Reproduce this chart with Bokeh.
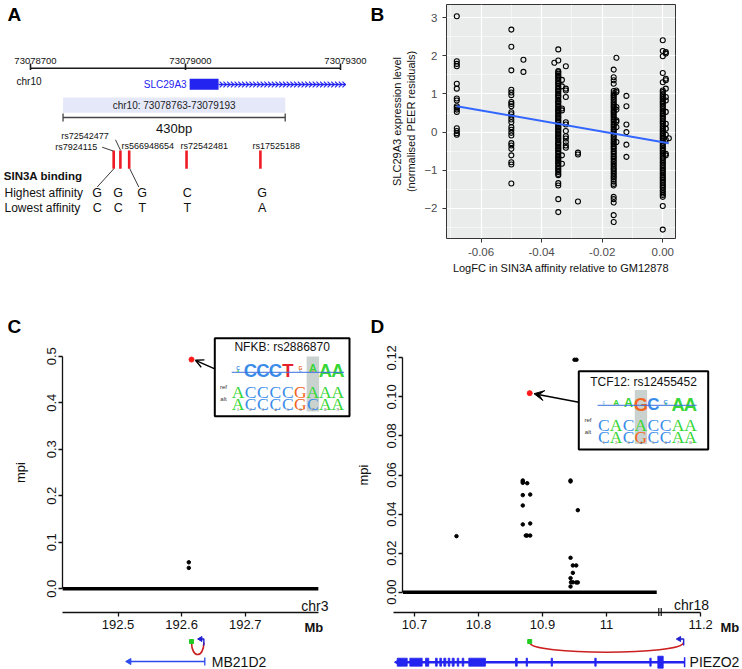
import numpy as np
from bokeh.plotting import figure
from bokeh.layouts import column, row
from bokeh.models import Range1d, LinearAxis, FixedTicker, NumeralTickFormatter, Arrow, OpenHead, VeeHead
from bokeh.core.properties import value
from bokeh.embed import file_html
from bokeh.resources import INLINE

SANS = value("Liberation Sans")
SERIF = value("Liberation Serif")

# ------------------------------------------------------------------ Panel A data
a_chrom = "chr10"
a_ruler_ticks = [73078700, 73079000, 73079300]
a_region = [73078763, 73079193]
a_gene_name = "SLC29A3"
a_gene_start = 73079008
a_gene_thick_end = 73079064
a_gene_end = 73079310
a_snp_ids = ["rs7924115", "rs72542477", "rs566948654", "rs72542481", "rs17525188"]
a_snp_pos = [73078861, 73078874, 73078891, 73079002, 73079145]
a_high = ["G", "G", "G", "C", "G"]
a_low = ["C", "C", "T", "T", "A"]

# ------------------------------------------------------------------ Panel B data
b_x_levels = [-0.068, -0.050, -0.046, -0.0358, -0.0345, -0.0333, -0.032, -0.028,
              -0.0162, -0.0153, -0.012, 0.000, 0.001, 0.002]
b_y_values = [
    [3.04, 1.86, 1.79, 1.73, 1.27, 1.14, 0.88, 0.83, 0.68, 0.64, 0.59, 0.53, 0.10, 0.03, -0.03, -0.07],
    [2.69, 2.24, 1.62, 1.11, 1.04, 0.97, 0.79, 0.74, 0.68, 0.52, 0.47, 0.40, 0.33, 0.26, 0.13, 0.06,
     -0.02, -0.09, -0.29, -0.35, -0.44, -0.61, -0.79, -0.85, -1.35],
    [1.90, 1.58],
    [1.82],
    [2.17, 1.88, 1.60, 1.57, 1.53, 1.49, 1.46, 1.42, 1.38, 1.33, 1.29, 1.26, 1.21, 1.17, 1.13, 1.09,
     1.06, 1.01, 0.97, 0.94, 0.90, 0.85, 0.81, 0.78, 0.74, 0.69, 0.66, 0.62, 0.58, 0.55, 0.51, 0.47,
     0.43, 0.39, 0.36, 0.31, 0.28, 0.24, 0.19, 0.15, 0.12, 0.08, 0.04, 0.01, -0.03, -0.07, -0.11,
     -0.14, -0.18, -0.22, -0.27, -0.30, -0.34, -0.38, -0.42, -0.45, -0.49, -0.53, -0.57, -0.62,
     -0.65, -0.69, -0.73, -0.77, -0.81, -0.84, -0.89, -0.93, -0.97, -1.01, -1.05, -1.10, -1.13,
     -1.34, -1.40, -1.76, -2.10],
    [1.37, 1.20, 0.62, 0.57, -0.61, -0.83],
    [1.73, 1.14, 1.09, 0.92, 0.26, 0.20, 0.03, -0.11, -0.17, -0.26, -0.35, -0.41],
    [-0.54, -0.59, -1.82],
    [1.64, 1.44, 1.36, 1.27, 1.08, 1.02, 0.97, 0.93, 0.88, 0.84, 0.79, 0.75, 0.70, 0.66, 0.62, 0.57,
     0.53, 0.49, 0.44, 0.40, 0.35, 0.31, 0.27, 0.22, 0.18, 0.14, 0.09, 0.05, 0.01, -0.04, -0.09,
     -0.13, -0.18, -0.22, -0.27, -0.31, -0.36, -0.40, -0.44, -0.49, -0.53, -0.57, -0.62, -0.66,
     -0.70, -0.75, -0.79, -0.84, -0.88, -0.93, -0.97, -1.01, -1.06, -1.10, -1.15, -1.19, -1.24,
     -1.30, -1.36, -1.40, -1.70, -1.76, -1.85, -2.18, -2.36],
    [1.95, 1.09, 1.05, 0.66, 0.59, 0.31, 0.27, 0.13, -0.26],
    [0.95, 0.68, 0.20, 0.00, -0.33, -0.65],
    [2.41, 2.13, 1.99, 1.55, 1.31, 1.09, 1.05, 1.00, 0.96, 0.91, 0.87, 0.82, 0.78, 0.74, 0.69, 0.65,
     0.60, 0.56, 0.51, 0.47, 0.43, 0.38, 0.34, 0.29, 0.25, 0.21, 0.16, 0.12, 0.07, 0.03, -0.02,
     -0.06, -0.11, -0.15, -0.19, -0.24, -0.28, -0.33, -0.37, -0.42, -0.46, -0.50, -0.55, -0.59,
     -0.64, -0.68, -0.72, -0.77, -0.81, -0.86, -0.90, -0.95, -0.99, -1.03, -1.08, -1.12, -1.17,
     -1.21, -1.25, -1.30, -1.34, -1.39, -1.43, -1.47, -1.52, -1.56, -1.61, -1.65, -1.70, -1.94, -2.56],
    [2.10, 2.06, 1.40, 1.36, 1.14, 0.92, 0.83, 0.53, 0.22, 0.09, -0.07, -0.20, -0.57, -0.61],
    [-0.16],
]
b_fit_x = [-0.068, 0.002]
b_fit_y = [0.68, -0.29]
b_xticks = [-0.06, -0.04, -0.02, 0.00]
b_xminor = [-0.07, -0.05, -0.03, -0.01]
b_yticks = [-2, -1, 0, 1, 2, 3]
b_yminor = [-2.5, -1.5, -0.5, 0.5, 1.5, 2.5]

# ------------------------------------------------------------------ Panel C data
c_chrom = "chr3"
c_yticks = [0.0, 0.1, 0.2, 0.3, 0.4, 0.5]
c_xticks = [192.5, 192.6, 192.7]
c_bg_range = [192.413, 192.815]          # SNPs with mpi ~ 0
c_snp_mb = [192.6113, 192.6113]
c_snp_mpi = [0.057, 0.045]
c_lead_mb = [192.6156]
c_lead_mpi = [0.493]
c_lead_label = "NFKB: rs2886870"
c_gene = "MB21D2"
c_gene_span = [192.5155, 192.6365]
c_tss = 192.6365
c_motif_ref = "ACCCCGAAA"
c_motif_alt = "ACCCCGCAA"
c_motif_snp = 7
c_logo = [[("A", 2.0), ("C", 3.5)], [("C", 12.5)], [("C", 12.5)], [("C", 12.5)], [("T", 12.5)],
          [("C", 2.5), ("G", 3.5)], [("G", 2.0), ("A", 7.5)], [("A", 12.5)], [("A", 12.5)]]

# ------------------------------------------------------------------ Panel D data
d_chrom = "chr18"
d_yticks = [0.0, 0.02, 0.04, 0.06, 0.08, 0.10, 0.12]
d_xtick_real = [10.7, 10.8, 10.9, 11.0, 11.2]
d_xtick_labels = ["10.7", "10.8", "10.9", "11", "11.2"]
d_bg_range = [10.682, 11.0785]
d_snp_mb = [10.7656, 10.8692, 10.8692, 10.8692, 10.8692, 10.8692, 10.8692, 10.8739, 10.8761,
            10.8761, 10.8808, 10.8808, 10.8808, 10.9438, 10.9438, 10.9438, 10.9438, 10.9445,
            10.9438, 10.9474, 10.9474, 10.9474, 10.9500, 10.9531, 10.9527, 10.9527, 10.9552, 10.9552]
d_snp_mpi = [0.0287, 0.0572, 0.0566, 0.0560, 0.0497, 0.0444, 0.0347, 0.0290, 0.0558,
             0.0290, 0.0500, 0.0352, 0.0290, 0.0572, 0.0567, 0.0176, 0.0072, 0.0051,
             0.0029, 0.0137, 0.0099, 0.0051, 0.1190, 0.1190, 0.0137, 0.0050, 0.0420, 0.0050]
d_lead_mb = [10.880]
d_lead_mpi = [0.1019]
d_lead_label = "TCF12: rs12455452"
d_gene = "PIEZO2"
d_gene_start = 10.673
d_tss_real = 11.148
d_exons = [(10.6730, 10.6886), (10.6927, 10.7120), (10.7172, 10.7223), (10.7328, 10.7355),
           (10.7395, 10.7422), (10.7458, 10.7489), (10.7527, 10.7552), (10.7589, 10.7620),
           (10.7667, 10.7692), (10.7745, 10.7770), (10.7848, 10.8109), (10.8578, 10.8605),
           (10.8745, 10.8766), (10.9136, 10.9156), (10.9817, 10.9839), (11.0677, 11.0698),
           (11.0802, 11.0886)]
d_exon_tall = [False] * 16 + [True]
d_motif_ref = "CACACCAA"
d_motif_alt = "CACGCCAA"
d_motif_snp = 4
d_logo = [[("A", 1.5), ("C", 2.0)], [("G", 1.2), ("A", 5.5)], [("G", 1.0), ("A", 8.5)], [("G", 12.5)],
          [("C", 11.5)], [("A", 2.0), ("C", 4.0)], [("A", 12.5)], [("A", 12.5)]]
# broken genomic axis (beyond the break the scale is compressed)
d_break_real = 11.072
d_break_axis = 11.0855
d_post_scale = 0.481


def d_axis_pos(mb):
    return mb if mb <= d_break_real else d_break_axis + (mb - d_break_real) * d_post_scale


COL = {"A": "#37D637", "C": "#3A8CE8", "G": "#F2661F", "T": "#E6212A"}
BLUE = "#2424F0"


def blank(width, height, xr, yr):
    p = figure(width=width, height=height, x_range=xr, y_range=yr, output_backend="svg",
               toolbar_location=None, min_border=0, x_axis_location=None, y_axis_location=None,
               outline_line_color=None, background_fill_color="white", border_fill_color="white")
    p.grid.visible = False
    return p


def txt(p, x, y, s, size, align="left", color="#111111", style="normal", font=SANS, baseline="middle", **kw):
    p.text(x=x, y=y, text=s, text_font=font, text_font_size=size, text_align=align,
           text_baseline=baseline, text_color=color, text_font_style=style, **kw)


# ================================================================== Panel A
def ax_(px):
    return 73078700 + (px - 30) * 600 / 310


# borders equal to panel B's so that the row's frame alignment keeps pixel positions
pA = blank(386, 300, Range1d(ax_(0), ax_(386)), Range1d(238, 4))
pA.min_border_top = 4
pA.min_border_bottom = 62
txt(pA, [ax_(7)], [13.5], ["A"], "19px", style="bold", color="black")
txt(pA, [ax_(370)], [13.5], ["B"], "19px", style="bold", color="black")

Y_RULER = 67.7
pA.segment(x0=[a_ruler_ticks[0]], y0=[Y_RULER], x1=[a_ruler_ticks[-1]], y1=[Y_RULER],
           line_color="#1a1a1a", line_width=1.6)
pA.segment(x0=a_ruler_ticks, y0=[63] * 3, x1=a_ruler_ticks, y1=[69.5] * 3, line_color="#1a1a1a", line_width=1.6)
txt(pA, a_ruler_ticks, [60] * 3, [str(t) for t in a_ruler_ticks], "9.5px", align="center", x_offset=5)
txt(pA, [ax_(16)], [80.5], [a_chrom], "10px")

# gene
Y_GENE = 84
txt(pA, [a_gene_start], [Y_GENE], [a_gene_name], "10px", align="right", color=BLUE, x_offset=-3)
pA.quad(left=[a_gene_start], right=[a_gene_thick_end], top=[78.3], bottom=[89.3], fill_color=BLUE, line_color=None)
pA.segment(x0=[a_gene_thick_end], y0=[Y_GENE], x1=[a_gene_end], y1=[Y_GENE], line_color=BLUE, line_width=1.3)
chev = np.arange(a_gene_thick_end + 5, a_gene_end - 2, 7.2)
pA.multi_line(xs=[[c - 2.8, c + 2.8, c - 2.8] for c in chev], ys=[[81.2, Y_GENE, 86.8] for c in chev],
              line_color=BLUE, line_width=1.1)

# region
pA.quad(left=[a_region[0]], right=[a_region[1]], top=[97], bottom=[112.3], fill_color="#E5E8F8", line_color=None)
mid = (a_region[0] + a_region[1]) / 2
txt(pA, [mid], [105], [f"{a_chrom}: {a_region[0]}-{a_region[1]}"], "10px", align="center", color="#222222")
pA.segment(x0=[a_region[0]], y0=[117], x1=[a_region[1]], y1=[117], line_color="#444444", line_width=1.3)
pA.segment(x0=a_region, y0=[113, 113], x1=a_region, y1=[121, 121], line_color="#444444", line_width=1.3)
txt(pA, [mid], [128], [f"{a_region[1] - a_region[0]}bp"], "13px", align="center")

# SNPs
pA.segment(x0=a_snp_pos, y0=[150] * 5, x1=a_snp_pos, y1=[168.3] * 5, line_color="#EE1B24", line_width=2.6)
lab_right = [(0, 96.7, 146.7), (1, 108.3, 135.5)]
lab_left = [(2, 121, 145.5), (3, 180, 145.5), (4, 252, 145.5)]
txt(pA, [ax_(v[1]) for v in lab_right], [v[2] for v in lab_right], [a_snp_ids[v[0]] for v in lab_right],
    "9px", align="right")
txt(pA, [ax_(v[1]) for v in lab_left], [v[2] for v in lab_left], [a_snp_ids[v[0]] for v in lab_left], "9px")
leads = [((101.7, 146.7), (112.7, 150.5)), ((115, 139.3), (120, 149.8)),
         ((113.3, 168.3), (96.7, 186.5)), ((129.3, 168.3), (138.3, 186.5))]
pA.segment(x0=[ax_(a[0]) for a, b in leads], y0=[a[1] for a, b in leads],
           x1=[ax_(b[0]) for a, b in leads], y1=[b[1] for a, b in leads], line_color="#222222", line_width=0.9)

txt(pA, [ax_(3.3)], [175], ["SIN3A binding"], "11.5px", style="bold")
txt(pA, [ax_(4)], [192.7], ["Highest affinity"], "12px")
txt(pA, [ax_(4)], [207.7], ["Lowest affinity"], "12px")
letter_px = [96.7, 117.7, 141.7, 186.7, 261.7]
txt(pA, [ax_(v) for v in letter_px], [192.7] * 5, a_high, "12.5px", align="center")
txt(pA, [ax_(v) for v in letter_px], [207.7] * 5, a_low, "12.5px", align="center")

# ================================================================== Panel B
pB = figure(width=356, height=300, x_range=Range1d(-0.0714, 0.0042), y_range=Range1d(-2.793, 3.349),
            output_backend="svg", toolbar_location=None, min_border_left=60, min_border_right=67,
            min_border_top=4, min_border_bottom=62, background_fill_color="#EAECEB",
            outline_line_color="#333333", outline_line_width=1)
pB.xaxis.ticker = FixedTicker(ticks=b_xticks, minor_ticks=b_xminor)
pB.xaxis.formatter = NumeralTickFormatter(format="0.00")
pB.yaxis.ticker = FixedTicker(ticks=b_yticks, minor_ticks=b_yminor)
for ax in (pB.xaxis[0], pB.yaxis[0]):
    ax.axis_line_color = None
    ax.major_tick_out = 4
    ax.major_tick_in = 0
    ax.minor_tick_out = 0
    ax.minor_tick_in = 0
    ax.major_tick_line_color = "#333333"
    ax.major_label_text_font = "Liberation Sans"
    ax.major_label_text_font_size = "11.5px"
    ax.major_label_text_color = "#4D4D4D"
    ax.axis_label_text_font = "Liberation Sans"
    ax.axis_label_text_font_size = "11px"
    ax.axis_label_text_font_style = "normal"
    ax.axis_label_text_color = "#111111"
pB.xaxis.axis_label = "LogFC in SIN3A affinity relative to GM12878"
pB.yaxis.axis_label = "SLC29A3 expression level\n(normalised PEER residuals)"
pB.xaxis.axis_label_standoff = 3
pB.yaxis.axis_label_standoff = 4
for g in (pB.xgrid[0], pB.ygrid[0]):
    g.grid_line_color = "white"
    g.grid_line_width = 1.2
    g.minor_grid_line_color = "white"
    g.minor_grid_line_width = 0.5
bx = [x for x, ys in zip(b_x_levels, b_y_values) for _ in ys]
by = [y for ys in b_y_values for y in ys]
pB.scatter(bx, by, marker="circle", size=5, fill_color=None, line_color="black", line_width=1.1)
pB.line(b_fit_x, b_fit_y, line_color="#3366FF", line_width=2)


# ================================================================== insets
def draw_inset(p, fx, fy, box, title, title_y, logo, seq_ref, seq_alt, hl, x0, step,
               logo_base, uline_y, ref_base, alt_base, num_y, lab_x, hl_top, hl_bot):
    l, t, r, b = box
    p.quad(left=[fx(l)], right=[fx(r)], top=[fy(t)], bottom=[fy(b)], fill_color="white",
           line_color="black", line_width=2)
    n = len(seq_ref)
    xs = [x0 + i * step for i in range(n)]
    hx = xs[hl - 1]
    p.quad(left=[fx(hx - step / 2)], right=[fx(hx + step / 2)], top=[fy(hl_top)], bottom=[fy(hl_bot)],
           fill_color="#C9D2CF", line_color=None)
    txt(p, [fx((l + r) / 2)], [fy(title_y)], [title], "12px", align="center")
    lx, ly, lt, lc, ls = [], [], [], [], []
    for i, stack in enumerate(logo):
        base = logo_base
        for letter, h in stack:
            lx.append(fx(xs[i]))
            ly.append(fy(base))
            lt.append(letter)
            lc.append(COL[letter])
            ls.append(f"{h / 0.68:.1f}px")
            base -= h + 0.3
    p.text(x=lx, y=ly, text=lt, text_color=lc, text_font_size=ls, text_font=SANS, text_font_style="bold",
           text_align="center", text_baseline="alphabetic")
    p.segment(x0=[fx(xs[0] - step / 2)], y0=[fy(uline_y)], x1=[fx(xs[-1] + step / 2)], y1=[fy(uline_y)],
              line_color="#3B6FE0", line_width=1)
    for seq, base in ((seq_ref, ref_base), (seq_alt, alt_base)):
        p.text(x=[fx(v) for v in xs], y=[fy(base)] * n, text=list(seq), text_color=[COL[c] for c in seq],
               text_font=SERIF, text_font_size="17.5px", text_align="center", text_baseline="alphabetic")
    txt(p, [fx(lab_x)] * 2, [fy(ref_base - 5), fy(alt_base - 5)], ["ref", "alt"], "6px", align="center",
        color="#333333")
    txt(p, [fx(v) for v in xs], [fy(num_y)] * n, [str(i + 1) for i in range(n)], "5px", align="center",
        color="#555555", font=SERIF)


def axis_style(ax, size="13px"):
    ax.major_tick_out = 4
    ax.major_tick_in = 0
    ax.minor_tick_out = 0
    ax.minor_tick_in = 0
    ax.axis_line_width = 1.3
    ax.major_tick_line_width = 1.3
    ax.axis_line_color = "#111111"
    ax.major_tick_line_color = "#111111"
    ax.major_label_text_font = "Liberation Sans"
    ax.major_label_text_font_size = size
    ax.major_label_text_color = "#111111"
    ax.axis_label_text_font = "Liberation Sans"
    ax.axis_label_text_font_size = "13px"
    ax.axis_label_text_font_style = "normal"
    ax.axis_label_text_color = "#111111"


# ================================================================== Panel C
def cx_(px):
    return 192.5 + (px - 117.5) / 636


def cy_(py):
    return (588.3 - py) / 465


pC = blank(356, 369, Range1d(cx_(0), cx_(356)), Range1d(cy_(669), cy_(300)))
txt(pC, [cx_(7)], [cy_(325.5)], ["C"], "19px", style="bold", color="black")
yax = LinearAxis(fixed_location=cx_(62), bounds=(0, 0.5), ticker=FixedTicker(ticks=c_yticks),
                 formatter=NumeralTickFormatter(format="0.0"), axis_label="mpi",
                 major_label_orientation="vertical")
axis_style(yax)
yax.major_label_standoff = 2
yax.axis_label_standoff = 17
pC.add_layout(yax, "left")
xax = LinearAxis(fixed_location=cy_(611.7), bounds=(cx_(61.7), cx_(318.3)), ticker=FixedTicker(ticks=c_xticks),
                 formatter=NumeralTickFormatter(format="0.0"))
axis_style(xax)
xax.major_label_standoff = 4
pC.add_layout(xax, "below")
txt(pC, [cx_(328)], [cy_(605)], [c_chrom], "14px", align="right")
txt(pC, [cx_(304)], [cy_(627)], ["Mb"], "13px", style="bold")

pC.segment(x0=[c_bg_range[0]], y0=[0], x1=[c_bg_range[1]], y1=[0], line_color="black", line_width=3.5)
pC.scatter(c_snp_mb, c_snp_mpi, marker="circle", size=3.5, color="black")
pC.scatter(c_lead_mb, c_lead_mpi, marker="circle", size=5, color="#FF1A1A")
pC.add_layout(Arrow(end=OpenHead(size=8, line_width=1.4), x_start=cx_(214.3), y_start=cy_(368.3),
                    x_end=cx_(195), y_end=cy_(359.8), line_width=1.4))
draw_inset(pC, cx_, cy_, (214.3, 337.7, 349, 415.7), c_lead_label, 346.5, c_logo, c_motif_ref, c_motif_alt,
           c_motif_snp, 237.5, 12.48, 370, 371.8, 391.7, 403.5, 408.5, 223, 356, 411)

# gene track
YL, YG = 641, 661
pC.bezier(x0=[c_lead_mb[0]], y0=[cy_(YL + 1)], x1=[c_tss - 0.0015], y1=[cy_(YL + 1)],
          cx0=[c_lead_mb[0]], cy0=[cy_(YL + 17)], cx1=[c_tss - 0.0015], cy1=[cy_(YL + 17)],
          line_color="#CC2020", line_width=1.6)
pC.scatter([c_lead_mb[0]], [cy_(YL)], marker="square", size=4, color="#22CC22")
pC.line([c_tss - 0.0015, c_tss - 0.0015, c_tss - 0.0065], [cy_(YL + 4), cy_(YL - 2.5), cy_(YL - 2.5)],
        line_color="#2020D0", line_width=1.4)
pC.scatter([c_tss - 0.0068], [cy_(YL - 2.5)], marker="triangle", angle=np.pi / 2, size=5, color="#2020D0")
pC.segment(x0=[c_gene_span[0]], y0=[cy_(YG)], x1=[c_gene_span[1]], y1=[cy_(YG)], line_color="#2B4BEE",
           line_width=1.3)
pC.scatter([c_gene_span[0] + 0.002], [cy_(YG)], marker="triangle", angle=np.pi / 2, size=6, color="#2B4BEE")
pC.segment(x0=[c_gene_span[1]], y0=[cy_(YG - 4)], x1=[c_gene_span[1]], y1=[cy_(YG + 4)], line_color="#2B4BEE",
           line_width=1.3)
txt(pC, [c_gene_span[1]], [cy_(YG)], [c_gene], "14px", x_offset=7)


# ================================================================== Panel D
def dx_(px):
    return 10.7 + (px - 414) / 640


def dy_(py):
    return (591.7 - py) / 1953.3


pD = blank(386, 369, Range1d(dx_(356), dx_(742)), Range1d(dy_(669), dy_(300)))
txt(pD, [dx_(370)], [dy_(325.5)], ["D"], "19px", style="bold", color="black")
yax = LinearAxis(fixed_location=dx_(401.7), bounds=(0, 0.12), ticker=FixedTicker(ticks=d_yticks),
                 formatter=NumeralTickFormatter(format="0.00"), axis_label="mpi",
                 major_label_orientation="vertical")
axis_style(yax)
yax.major_label_standoff = 2
yax.axis_label_standoff = 14
pD.add_layout(yax, "left")
d_tick_pos = [round(d_axis_pos(v), 6) for v in d_xtick_real]
xax = LinearAxis(fixed_location=dy_(611.7), bounds=(dx_(393.3), d_tick_pos[-1]),
                 ticker=FixedTicker(ticks=d_tick_pos),
                 major_label_overrides={t: l for t, l in zip(d_tick_pos, d_xtick_labels)})
axis_style(xax)
xax.major_label_standoff = 4
pD.add_layout(xax, "below")
pD.segment(x0=[d_break_axis - 0.0038, d_break_axis], y0=[dy_(607.5)] * 2,
           x1=[d_break_axis - 0.0038, d_break_axis], y1=[dy_(615.5)] * 2, line_color="#111111", line_width=1.2)
txt(pD, [dx_(708.5)], [dy_(604)], [d_chrom], "14px", align="right")
txt(pD, [dx_(720)], [dy_(627)], ["Mb"], "13px", style="bold")

pD.segment(x0=[d_bg_range[0]], y0=[0], x1=[d_bg_range[1]], y1=[0], line_color="black", line_width=3.5)
pD.scatter(d_snp_mb, d_snp_mpi, marker="circle", size=3.5, color="black")
pD.scatter(d_lead_mb, d_lead_mpi, marker="circle", size=5, color="#FF1A1A")
pD.add_layout(Arrow(end=VeeHead(size=10, fill_color="black", line_color="black"), x_start=dx_(578.3),
                    y_start=dy_(401.7), x_end=dx_(533.5), y_end=dy_(393.2), line_width=1.6))
draw_inset(pD, dx_, dy_, (578.3, 370.7, 707.7, 449), d_lead_label, 381.7, d_logo, d_motif_ref, d_motif_alt,
           d_motif_snp, 603.3, 12.38, 403.5, 404.8, 424, 436.7, 441.5, 587.5, 389.5, 443.5)

# gene track
d_tss = d_axis_pos(d_tss_real)
YG = 661.7
pD.bezier(x0=[d_lead_mb[0]], y0=[dy_(YL + 1)], x1=[d_tss - 0.002], y1=[dy_(YL + 1)],
          cx0=[d_lead_mb[0]], cy0=[dy_(YL + 14)], cx1=[d_tss - 0.002], cy1=[dy_(YL + 14)],
          line_color="#CC2020", line_width=1.6)
pD.scatter([d_lead_mb[0]], [dy_(YL)], marker="square", size=4, color="#22CC22")
pD.line([d_tss - 0.0015, d_tss - 0.0015, d_tss - 0.008], [dy_(YL + 4), dy_(YL - 2.5), dy_(YL - 2.5)],
        line_color="#2020D0", line_width=1.4)
pD.scatter([d_tss - 0.0085], [dy_(YL - 2.5)], marker="triangle", angle=np.pi / 2, size=5, color="#2020D0")
pD.segment(x0=[d_gene_start], y0=[dy_(YG)], x1=[d_tss], y1=[dy_(YG)], line_color=BLUE, line_width=2.6)
pD.quad(left=[e[0] for e in d_exons], right=[e[1] for e in d_exons],
        top=[dy_(YG - (6 if t else 4)) for t in d_exon_tall], bottom=[dy_(YG + (6 if t else 4)) for t in d_exon_tall],
        fill_color=BLUE, line_color=BLUE, line_width=0.8)
pD.scatter([d_gene_start + 0.002], [dy_(YG)], marker="triangle", angle=np.pi / 2, size=7, color=BLUE)
pD.segment(x0=[d_tss], y0=[dy_(YG - 5)], x1=[d_tss], y1=[dy_(YG + 5)], line_color=BLUE, line_width=1.5)
txt(pD, [d_tss], [dy_(YG)], [d_gene], "14px", x_offset=5)

layout = column(row(pA, pB), row(pC, pD))
open("out.html", "w").write(file_html(layout, INLINE))
